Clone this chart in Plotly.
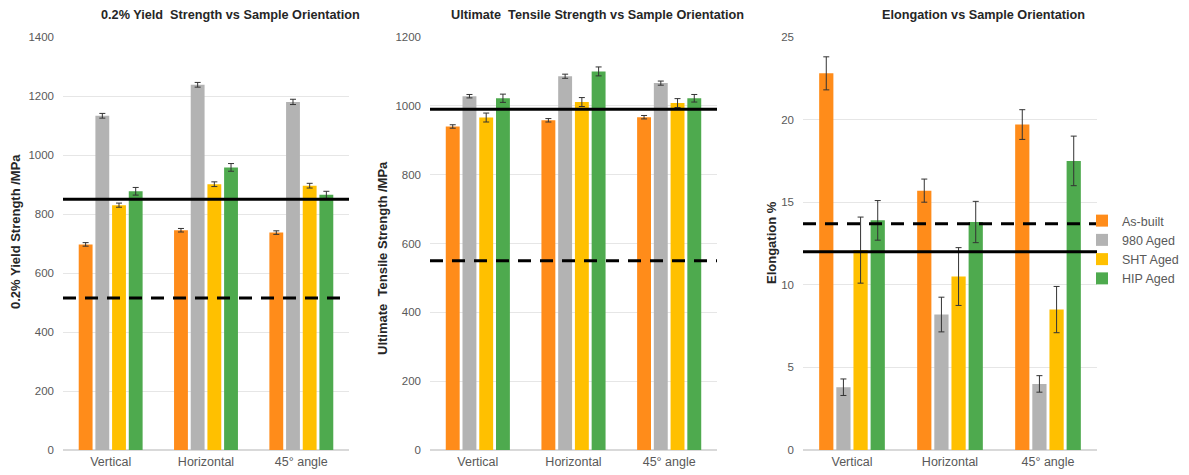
import plotly.graph_objects as go

categories = ["Vertical", "Horizontal", "45° angle"]
series = ["As-built", "980 Aged", "SHT Aged", "HIP Aged"]
colors = ["#FF8C1A", "#B3B3B3", "#FFC000", "#4EAA4E"]

# 0.2% Yield Strength (MPa)
ys_vals = {
    "As-built": [697, 745, 737],
    "980 Aged": [1133, 1238, 1180],
    "SHT Aged": [830, 901, 896],
    "HIP Aged": [877, 958, 865],
}
ys_err = {
    "As-built": [6, 6, 6],
    "980 Aged": [8, 8, 9],
    "SHT Aged": [7, 8, 8],
    "HIP Aged": [13, 13, 12],
}
ys_solid, ys_dashed = 850, 515

# Ultimate Tensile Strength (MPa)
uts_vals = {
    "As-built": [940, 958, 967],
    "980 Aged": [1028, 1086, 1066],
    "SHT Aged": [966, 1011, 1008],
    "HIP Aged": [1022, 1100, 1022],
}
uts_err = {
    "As-built": [5, 5, 5],
    "980 Aged": [5, 6, 6],
    "SHT Aged": [13, 13, 13],
    "HIP Aged": [12, 13, 11],
}
uts_solid, uts_dashed = 990, 550

# Elongation (%)
el_vals = {
    "As-built": [22.8, 15.7, 19.7],
    "980 Aged": [3.8, 8.2, 4.0],
    "SHT Aged": [12.1, 10.5, 8.5],
    "HIP Aged": [13.9, 13.8, 17.5],
}
el_err = {
    "As-built": [1.0, 0.7, 0.9],
    "980 Aged": [0.5, 1.05, 0.5],
    "SHT Aged": [2.0, 1.75, 1.4],
    "HIP Aged": [1.2, 1.25, 1.5],
}
el_solid, el_dashed = 12.0, 13.7

# page body has an 8px default margin: lay out in window pixels, convert to figure paper
OFF = 8
W, H = 1189 - OFF, 475 - OFF


def px(x):
    return (x - OFF) / W


def py(y):
    return (H - (y - OFF)) / H


FONT = "Liberation Sans, Arial, sans-serif"
TICK_COLOR = "#595959"

panels = [
    dict(vals=ys_vals, err=ys_err, solid=ys_solid, dashed=ys_dashed, rng=[0, 1400], dtick=200,
         xd=[63, 349], title="0.2% Yield  Strength vs Sample Orientation", tx=230,
         ytitle="0.2% Yield Strength /MPa", ytx=16, yty=232),
    dict(vals=uts_vals, err=uts_err, solid=uts_solid, dashed=uts_dashed, rng=[0, 1200], dtick=200,
         xd=[430, 717], title="Ultimate  Tensile Strength vs Sample Orientation", tx=597,
         ytitle="Ultimate  Tensile Strength /MPa", ytx=382, yty=258),
    dict(vals=el_vals, err=el_err, solid=el_solid, dashed=el_dashed, rng=[0, 25], dtick=5,
         xd=[803, 1097], title="Elongation vs Sample Orientation", tx=983,
         ytitle="Elongation %", ytx=771, yty=243),
]

fig = go.Figure()
ydom = [py(450), py(37)]
shapes = []
annotations = []

for i, p in enumerate(panels):
    n = "" if i == 0 else str(i + 1)
    for s, c in zip(series, colors):
        fig.add_trace(go.Bar(
            x=categories, y=p["vals"][s], name=s, marker_color=c,
            marker_line_width=0,
            error_y=dict(type="data", array=p["err"][s], color="#333333", thickness=1, width=3),
            xaxis="x" + n, yaxis="y" + n, showlegend=(i == 2), legendgroup=s,
        ))
    fig.layout["xaxis" + n] = dict(
        domain=[px(p["xd"][0]), px(p["xd"][1])], anchor="y" + n, automargin=False,
        showline=True, linecolor="#D9D9D9", linewidth=1, ticks="",
        tickfont=dict(size=12.5, color=TICK_COLOR, family=FONT), showgrid=False,
    )
    fig.layout["yaxis" + n] = dict(
        domain=ydom, anchor="x" + n, range=p["rng"], dtick=p["dtick"], automargin=False,
        showgrid=True, gridcolor="#E6E6E6", gridwidth=1,
        zeroline=True, zerolinecolor="#D9D9D9", showline=False, ticks="",
        tickfont=dict(size=11.5, color=TICK_COLOR, family=FONT), ticklabelstandoff=8,
    )
    xr = "x" + n + " domain"
    yr = "y" + n
    shapes.append(dict(type="line", xref=xr, yref=yr, x0=0, x1=1, y0=p["solid"], y1=p["solid"],
                       line=dict(color="black", width=3)))
    shapes.append(dict(type="line", xref=xr, yref=yr, x0=0, x1=1, y0=p["dashed"], y1=p["dashed"],
                       line=dict(color="black", width=3, dash="13px,9px")))
    annotations.append(dict(text="<b>" + p["title"] + "</b>", xref="paper", yref="paper",
                            x=px(p["tx"]), y=py(15), showarrow=False,
                            xanchor="center", yanchor="middle",
                            font=dict(size=12.7, color="#262626", family=FONT)))
    annotations.append(dict(text="<b>" + p["ytitle"] + "</b>", xref="paper", yref="paper",
                            x=px(p["ytx"]), y=py(p["yty"]), showarrow=False, textangle=-90,
                            xanchor="center", yanchor="middle",
                            font=dict(size=13, color="#262626", family=FONT)))

fig.update_layout(
    width=W, height=H, margin=dict(l=0, r=0, t=0, b=0, autoexpand=False),
    plot_bgcolor="white", paper_bgcolor="white",
    barmode="group", bargap=0.3, bargroupgap=0.17,
    shapes=shapes, annotations=annotations,
    legend=dict(x=px(1082), y=py(206), xanchor="left", yanchor="top",
                font=dict(size=12.5, color=TICK_COLOR, family=FONT),
                itemwidth=30, tracegroupgap=0, bgcolor="rgba(0,0,0,0)"),
    font=dict(family=FONT),
)

fig.write_html("out.html")
